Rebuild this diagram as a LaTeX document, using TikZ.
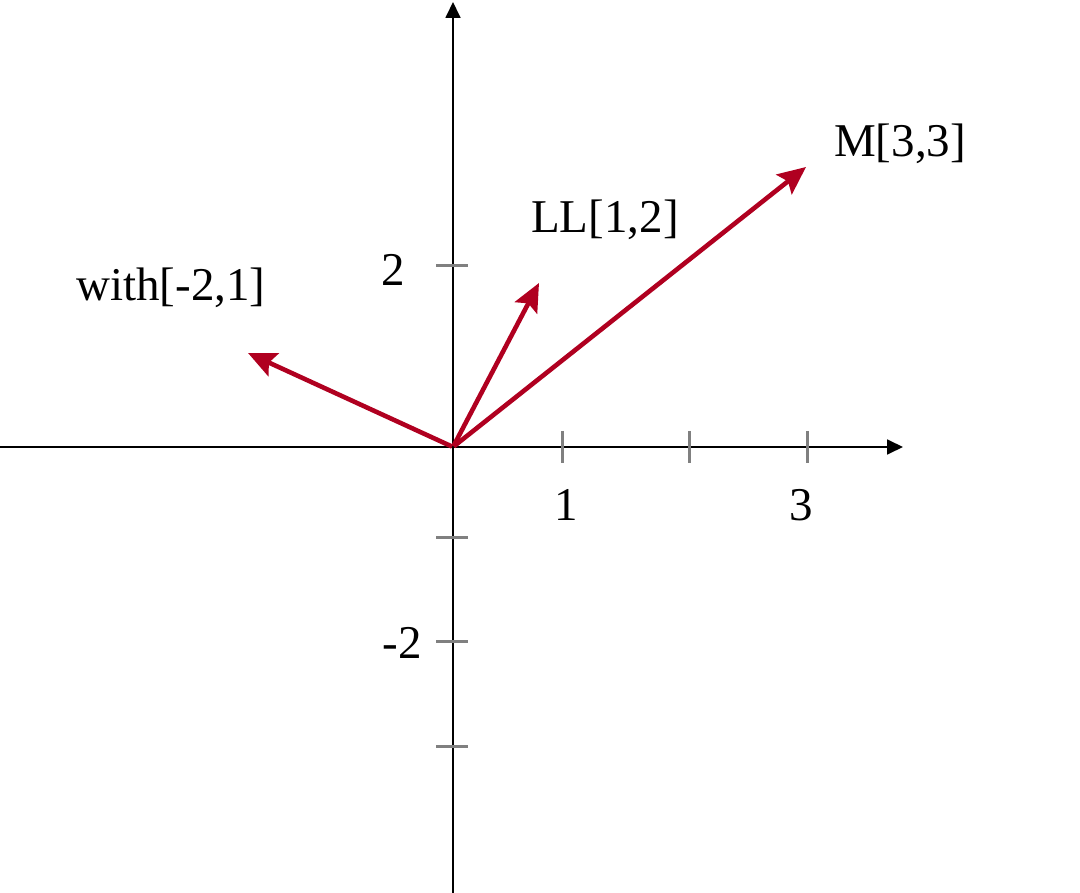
\documentclass[tikz,border=0pt]{standalone}
\usepackage{fontspec}
\setmainfont{Liberation Serif}
\usetikzlibrary{arrows.meta}
\definecolor{vecred}{RGB}{176,0,32}
\definecolor{tickgray}{RGB}{128,128,128}
\tikzset{
  axis/.style={line width=1.8pt, black, -{Triangle[length=16pt,width=15pt]}},
  tickmark/.style={line width=3pt, tickgray},
  vec/.style={line width=4.6pt, vecred, -{Stealth[length=28pt,width=25pt,inset=5pt]}, shorten <=1pt},
  lbl/.style={inner sep=0pt, font=\fontsize{47}{52}\selectfont}
}
\begin{document}
\begin{tikzpicture}[x=1pt,y=-1pt]
\useasboundingbox (0,0) rectangle (1080,893);
\coordinate (O) at (453,447);
\coordinate (xl) at (0,447);
\coordinate (xr) at (903,447);
\coordinate (yb) at (453,893);
\coordinate (yt) at (453,2);
\draw[axis] (xl) -- (xr);
\draw[axis] (yb) -- (yt);
% x ticks
\foreach \x/\n in {562/a,689/b,807/c}{
  \coordinate (xt\n1) at (\x,431);
  \coordinate (xt\n2) at (\x,463);
  \draw[tickmark] (xt\n1) -- (xt\n2);
}
% y ticks
\foreach \y/\n in {266/a,537/b,641/c,746/d}{
  \coordinate (yt\n1) at (436,\y);
  \coordinate (yt\n2) at (468,\y);
  \draw[tickmark] (yt\n1) -- (yt\n2);
}
\node[lbl, anchor=base] (l1) at (566,520) {1};
\node[lbl, anchor=base] (l3) at (801,520) {3};
\node[lbl, anchor=base] (l2) at (393,286) {2};
\node[lbl, anchor=base] (lm2) at (402,658) {-2};
% vectors
\coordinate (tw) at (248,353);
\coordinate (tl) at (539,283);
\coordinate (tm) at (806,167);
\draw[vec] (O) -- (tw);
\draw[vec] (O) -- (tl);
\draw[vec] (O) -- (tm);
\node[lbl, anchor=base west] (nw) at (76,301) {with[-2,1]};
\node[lbl, anchor=base west] (nl) at (531,233) {LL[1,2]};
\node[lbl, anchor=base west] (nm) at (834,157) {M[3,3]};
\end{tikzpicture}
\end{document}
